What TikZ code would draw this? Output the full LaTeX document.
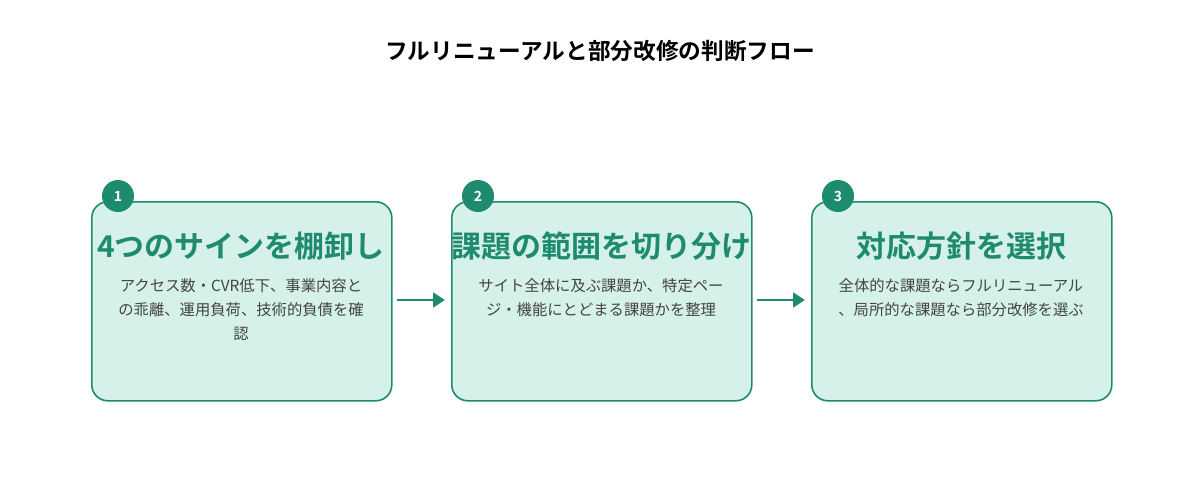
\documentclass[tikz,border=0pt]{standalone}
\usepackage{fontspec}
\setmainfont{Noto Sans CJK JP}[BoldFont={Noto Sans CJK JP Bold}]
\usetikzlibrary{arrows.meta}
\definecolor{grn}{HTML}{1E8A6E}
\definecolor{bx}{HTML}{D5F1E9}
\definecolor{txt}{HTML}{444444}
\begin{document}
\begin{tikzpicture}[x=0.75pt,y=-0.75pt,
  box/.style={draw=grn,fill=bx,line width=1.2pt,rounded corners=12pt,minimum width=225pt,minimum height=149.25pt,anchor=north west},
  badge/.style={circle,fill=grn,minimum size=24pt,inner sep=0pt,text=white,font=\bfseries\fontsize{10.5}{12}\selectfont},
  ttl/.style={text=grn,font=\bfseries\fontsize{22.5}{26}\selectfont},
  dsc/.style={text=txt,align=center,font=\fontsize{11.5}{18}\selectfont},
  arr/.style={draw=grn,line width=2.2pt,-{Triangle[length=9pt,width=11pt]}}]
\useasboundingbox (0,0) rectangle (1200,500);
\node[font=\bfseries\fontsize{17}{20}\selectfont] (t) at (600,51) {フルリニューアルと部分改修の判断フロー};
\node[box] (b1) at (91,201) {};
\node[box] (b2) at (451,201) {};
\node[box] (b3) at (811,201) {};
\node[badge] (n1) at (118,196) {1};
\node[badge] (n2) at (478,196) {2};
\node[badge] (n3) at (838,196) {3};
\node[ttl] (h1) at (241,246) {4つのサインを棚卸し};
\node[ttl] (h2) at (601,246) {課題の範囲を切り分け};
\node[ttl] (h3) at (961,246) {対応方針を選択};
\node[dsc,anchor=north] (d1) at (241,274) {アクセス数・CVR低下、事業内容と\\の乖離、運用負荷、技術的負債を確\\認};
\node[dsc,anchor=north] (d2) at (601,274) {サイト全体に及ぶ課題か、特定ペー\\ジ・機能にとどまる課題かを整理};
\node[dsc,anchor=north] (d3) at (961,274) {全体的な課題ならフルリニューアル\\、局所的な課題なら部分改修を選ぶ};
\coordinate (a1) at (397,300); \coordinate (a2) at (445,300);
\coordinate (a3) at (757,300); \coordinate (a4) at (805,300);
\draw[arr] (a1) -- (a2);
\draw[arr] (a3) -- (a4);
\end{tikzpicture}
\end{document}
